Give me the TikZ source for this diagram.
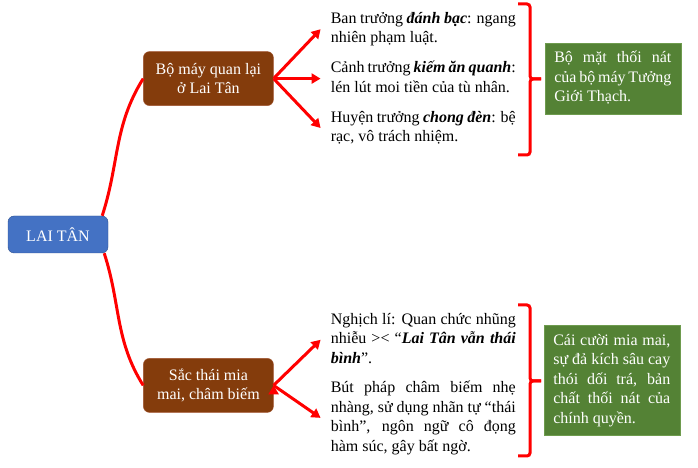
\documentclass[tikz,border=0pt]{standalone}
\usepackage{fontspec}
\setmainfont{Liberation Serif}
\usepackage{tikz}
\usetikzlibrary{positioning, arrows.meta}
\definecolor{xanhgoc}{HTML}{4472C4}
\definecolor{viengoc}{HTML}{2F528F}
\definecolor{nau}{HTML}{843C0C}
\definecolor{viennau}{HTML}{A0522D}
\definecolor{xanhla}{HTML}{548235}
\definecolor{vienla}{HTML}{6E9B4E}
\hyphenpenalty=10000
\exhyphenpenalty=10000

\begin{document}
\begin{tikzpicture}[font=\fontsize{16pt}{19.5pt}\selectfont,
        goc/.style={rectangle, rounded corners=6pt, draw=viengoc, fill=xanhgoc, text=white, minimum width=100pt, minimum height=37pt},
        nhanh/.style={rectangle, rounded corners=6pt, draw=viennau, fill=nau, text=white, align=center, minimum width=130pt, minimum height=54pt},
        doan/.style={text width=185pt, align=justify, inner xsep=10pt, inner ysep=0pt, execute at begin node=\strut, execute at end node=\strut},
        ketluan/.style={rectangle, draw=vienla, fill=xanhla, text=white, text width=117pt, align=justify, inner xsep=9.5pt, inner ysep=6.5pt, execute at begin node=\strut, execute at end node=\strut},
        mui/.style={-{Triangle[length=9pt,width=10pt]}, draw, red, line width=3pt},
        ngoac/.style={draw, red, line width=3pt, rounded corners=3pt}]
        \useasboundingbox (0,0) rectangle (698pt,468pt);

        \node[goc](lai) at (58pt,233.5pt){LAI TÂN};
        \node[nhanh](quan)[above right = 110pt and 35pt of lai]{Bộ máy quan lại\\ở Lai Tân};
        \node[nhanh](sac)[below right = 105pt and 35pt of lai]{Sắc thái mia\\mai, châm biếm};

        % bo may quan lai
        \node[doan](tb2)[right = 47pt of quan]{Cảnh trưởng \textbf{\textit{kiếm ăn quanh}}: lén lút moi tiền của tù nhân.};
        \node[doan](tb1)[above = 10pt of tb2]{Ban trưởng \textbf{\textit{đánh bạc}}: ngang nhiên phạm luật.};
        \node[doan](tb3)[below = 10pt of tb2]{Huyện trưởng \textbf{\textit{chong đèn}}: bệ rạc, vô trách nhiệm.};
        \node[ketluan](gtop)[right = 271pt of quan]{Bộ mặt thối nát của bộ máy Tưởng Giới Thạch.};

        % sac thai mia mai
        \node[doan](nt1)[above right = -11pt and 47pt of sac]{Nghịch lí: Quan chức nhũng nhiễu >< “\textbf{\textit{Lai Tân vẫn thái bình}}”.};
        \node[doan](nt2)[below = 9.5pt of nt1]{Bút pháp châm biếm nhẹ nhàng, sử dụng nhãn tự “thái bình”, ngôn ngữ cô đọng\linebreak hàm súc, gây bất ngờ.};
        \node[ketluan](gbot)[right = 270pt of sac, yshift=5pt]{Cái cười mia mai, sự đả kích sâu cay thói dối trá, bản chất thối nát của chính quyền.};

        \path[draw, red, line width=3pt]
        ([xshift=-6pt]lai.north east) edge[out=72, in=238] (quan.west)
        ([xshift=-4pt]lai.south east) edge[out=-72, in=122] (sac.west);

        \path[mui]
        (quan.east) edge (tb1.west)
        (quan.east) edge (tb2.west)
        (quan.east) edge (tb3.west)
        (sac.east) edge (nt1.west)
        (sac.east) edge (nt2.west);

        % ngoac nhon
        \path[ngoac] (518pt,464pt) -| (530pt,389pt) -- (541pt,389pt);
        \path[ngoac] (541pt,389pt) -- (530pt,389pt) |- (518pt,313pt);
        \path[ngoac] (518pt,163pt) -| (530pt,87pt) -- (541pt,87pt);
        \path[ngoac] (541pt,87pt) -- (530pt,87pt) |- (518pt,12pt);
    \end{tikzpicture}
\end{document}
